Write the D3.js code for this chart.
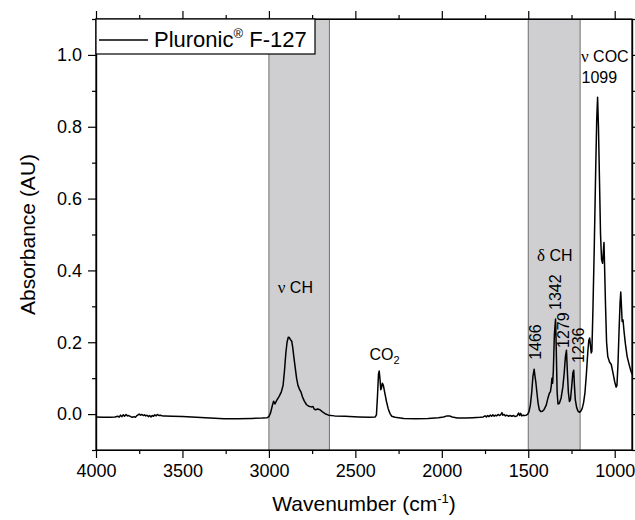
<!DOCTYPE html>
<html>
<head>
<meta charset="utf-8">
<script src="https://cdn.jsdelivr.net/npm/d3@7"></script>
<style>
  body { margin: 0; background: #fff; }
  text { font-family: Arial, "Liberation Sans", sans-serif; fill: #000; }
  .greek { font-family: "Liberation Serif", "DejaVu Serif", serif; }
</style>
</head>
<body>
<svg id="chart" width="635" height="520"></svg>
<script>
// FTIR spectrum of Pluronic F-127
var wavenumber = [
  4000, 3960, 3920, 3890, 3875, 3865, 3858, 3850, 3842, 3835, 3826, 3818, 3810, 3800, 3790, 3780,
  3772, 3765, 3757, 3750, 3742, 3735, 3727, 3720, 3712, 3705, 3697, 3690, 3682, 3675, 3667, 3660,
  3652, 3645, 3637, 3628, 3615, 3600, 3560, 3500, 3420, 3340, 3260, 3180, 3100, 3040, 3010, 3000,
  2990, 2980, 2973, 2965, 2955, 2940, 2928, 2918, 2910, 2902, 2895, 2888, 2882, 2875, 2868, 2862,
  2856, 2848, 2840, 2832, 2822, 2815, 2806, 2795, 2782, 2770, 2755, 2745, 2738, 2730, 2718, 2705,
  2690, 2675, 2655, 2620, 2560, 2480, 2420, 2385, 2378, 2372, 2366, 2362, 2357, 2353, 2349, 2344,
  2338, 2330, 2320, 2310, 2300, 2290, 2270, 2220, 2150, 2080, 2020, 1990, 1970, 1955, 1940, 1910,
  1860, 1820, 1780, 1760, 1750, 1742, 1735, 1727, 1720, 1712, 1705, 1697, 1690, 1682, 1675, 1667,
  1660, 1652, 1647, 1640, 1632, 1625, 1615, 1605, 1595, 1585, 1575, 1565, 1556, 1550, 1544, 1538,
  1530, 1522, 1512, 1504, 1496, 1488, 1480, 1473, 1466, 1461, 1456, 1450, 1443, 1436, 1428, 1418,
  1408, 1396, 1386, 1378, 1372, 1367, 1363, 1359, 1355, 1349, 1342, 1338, 1333, 1328, 1320, 1310,
  1300, 1292, 1285, 1279, 1274, 1268, 1262, 1256, 1249, 1242, 1237, 1233, 1228, 1220, 1212, 1204,
  1196, 1188, 1180, 1172, 1164, 1156, 1150, 1145, 1140, 1136, 1132, 1126, 1118, 1110, 1104, 1099,
  1094, 1088, 1082, 1076, 1070, 1066, 1062, 1058, 1053, 1047, 1040, 1030, 1020, 1010, 1000, 992,
  987, 981, 975, 969, 965, 961, 957, 952, 946, 938, 928, 915, 905, 898
];
var absorbance = [
  -0.008, -0.009, -0.009, -0.008, -0.006, -0.008, -0.003, -0.007, -0.002, -0.006, -0.001, -0.005, -0.004, -0.007, -0.009, -0.007,
  -0.009, -0.005, -0.002, 0.000, -0.003, -0.001, -0.004, -0.002, -0.005, -0.003, -0.007, -0.004, -0.008, -0.004, -0.006, -0.002,
  -0.005, -0.001, -0.004, -0.003, -0.005, -0.005, -0.006, -0.007, -0.009, -0.011, -0.013, -0.013, -0.012, -0.011, -0.010, -0.007,
  0.004, 0.024, 0.036, 0.028, 0.038, 0.050, 0.062, 0.080, 0.120, 0.170, 0.200, 0.214, 0.213, 0.207, 0.203, 0.185,
  0.160, 0.130, 0.100, 0.080, 0.068, 0.062, 0.048, 0.036, 0.026, 0.022, 0.020, 0.021, 0.014, 0.012, 0.014, 0.012,
  0.006, 0.001, -0.003, -0.005, -0.006, -0.008, -0.009, -0.008, -0.002, 0.050, 0.112, 0.120, 0.095, 0.068, 0.072, 0.086,
  0.080, 0.060, 0.035, 0.015, 0.002, -0.006, -0.009, -0.012, -0.013, -0.012, -0.010, -0.008, -0.005, -0.005, -0.008, -0.011,
  -0.011, -0.010, -0.009, -0.008, -0.005, -0.008, -0.004, -0.007, -0.003, -0.006, -0.002, -0.006, -0.003, -0.005, -0.001, -0.004,
  -0.002, 0.004, -0.003, -0.001, -0.005, -0.003, -0.006, -0.004, -0.006, -0.004, -0.007, -0.005, 0.003, -0.004, 0.002, -0.005,
  -0.003, -0.004, -0.003, -0.001, 0.006, 0.025, 0.060, 0.105, 0.125, 0.105, 0.088, 0.060, 0.030, 0.012, 0.007, 0.008,
  0.013, 0.025, 0.045, 0.058, 0.062, 0.078, 0.100, 0.086, 0.120, 0.220, 0.265, 0.180, 0.060, 0.028, 0.030, 0.045,
  0.075, 0.115, 0.160, 0.178, 0.120, 0.060, 0.035, 0.040, 0.075, 0.115, 0.122, 0.080, 0.040, 0.018, 0.008, 0.005,
  0.008, 0.016, 0.032, 0.060, 0.110, 0.170, 0.205, 0.212, 0.190, 0.170, 0.175, 0.290, 0.470, 0.680, 0.820, 0.882,
  0.800, 0.650, 0.500, 0.430, 0.420, 0.450, 0.478, 0.400, 0.300, 0.200, 0.160, 0.145, 0.138, 0.115, 0.090, 0.075,
  0.080, 0.140, 0.230, 0.310, 0.340, 0.300, 0.258, 0.262, 0.230, 0.195, 0.160, 0.135, 0.118, 0.110
];

var xTicks = [4000, 3500, 3000, 2500, 2000, 1500, 1000];
var xMinor = [3750, 3250, 2750, 2250, 1750, 1250];
var yTicks = [0.0, 0.2, 0.4, 0.6, 0.8, 1.0];
var yMinor = [-0.1, 0.1, 0.3, 0.5, 0.7, 0.9, 1.1];

// shaded regions [from, to] in cm-1
var bandStart = [3000, 1500];
var bandEnd = [2650, 1200];

// horizontal labels: greek prefix, text, wavenumber, absorbance
var labelGreek = ["\u03bd", "\u03b4", "\u03bd", ""];
var labelText = [" CH", " CH", " COC", "1099"];
var labelWn = [2847, 1346, 1195, 1192];
var labelAbs = [0.3375, 0.427, 0.979, 0.923];
var labelAnchor = ["middle", "middle", "start", "start"];

// rotated peak labels
var peakText = ["1466", "1342", "1279", "1236"];
var peakWn = [1425, 1308, 1262, 1178];
var peakAbs = [0.151, 0.290, 0.184, 0.142];

var margin = {top: 19, right: 3, bottom: 70, left: 96};
var width = 635 - margin.left - margin.right;
var height = 520 - margin.top - margin.bottom;

var svg = d3.select("#chart");
var g = svg.append("g").attr("transform", "translate(" + margin.left + "," + margin.top + ")");

var x = d3.scaleLinear().domain([4000, 900]).range([0, width]);
var y = d3.scaleLinear().domain([-0.1, 1.1]).range([height, 0]);

g.append("clipPath").attr("id", "clip")
  .append("rect").attr("width", width).attr("height", height);

// gray bands
var bands = bandStart.map(function(d, i) { return [d, bandEnd[i]]; });
g.selectAll("rect.band")
  .data(bands)
  .enter()
  .append("rect")
  .attr("class", "band")
  .attr("x", function(d) { return x(d[0]); })
  .attr("y", 0)
  .attr("width", function(d) { return x(d[1]) - x(d[0]); })
  .attr("height", height)
  .attr("fill", "#cfcfd1");
bands.forEach(function(d) {
  d.forEach(function(v) {
    g.append("line")
      .attr("x1", x(v)).attr("x2", x(v))
      .attr("y1", 0).attr("y2", height)
      .attr("stroke", "#6e6e6e").attr("stroke-width", 1);
  });
});

// spectrum
var pts = wavenumber.map(function(d, i) { return [d, absorbance[i]]; });
var line = d3.line()
  .x(function(d) { return x(d[0]); })
  .y(function(d) { return y(d[1]); });
g.append("path")
  .datum(pts)
  .attr("clip-path", "url(#clip)")
  .attr("fill", "none")
  .attr("stroke", "#000")
  .attr("stroke-width", 1.5)
  .attr("stroke-linejoin", "round")
  .attr("d", line);

// axes, ticks pointing out on all four sides
function styleAxis(sel) {
  sel.selectAll("path").attr("stroke", "#000").attr("stroke-width", 1.2);
  sel.selectAll("line").attr("stroke", "#000").attr("stroke-width", 1.2);
  sel.selectAll("text").style("font-size", "18px").attr("fill", "#000");
}

g.append("g").attr("transform", "translate(0," + height + ")")
  .call(d3.axisBottom(x).tickValues(xTicks).tickSize(8).tickSizeOuter(0).tickPadding(6).tickFormat(d3.format("d")))
  .call(styleAxis);
g.append("g").attr("transform", "translate(0," + height + ")")
  .call(d3.axisBottom(x).tickValues(xMinor).tickSize(4).tickSizeOuter(0).tickFormat(""))
  .call(styleAxis);
g.append("g")
  .call(d3.axisTop(x).tickValues(xTicks).tickSize(8).tickSizeOuter(0).tickFormat(""))
  .call(styleAxis);
g.append("g")
  .call(d3.axisTop(x).tickValues(xMinor).tickSize(4).tickSizeOuter(0).tickFormat(""))
  .call(styleAxis);

g.append("g")
  .call(d3.axisLeft(y).tickValues(yTicks).tickSize(8).tickSizeOuter(0).tickPadding(6).tickFormat(d3.format(".1f")))
  .call(styleAxis);
g.append("g")
  .call(d3.axisLeft(y).tickValues(yMinor).tickSize(4).tickSizeOuter(0).tickFormat(""))
  .call(styleAxis);
g.append("g").attr("transform", "translate(" + width + ",0)")
  .call(d3.axisRight(y).tickValues(yTicks).tickSize(8).tickSizeOuter(0).tickFormat(""))
  .call(styleAxis);
g.append("g").attr("transform", "translate(" + width + ",0)")
  .call(d3.axisRight(y).tickValues(yMinor).tickSize(4).tickSizeOuter(0).tickFormat(""))
  .call(styleAxis);

// frame
g.append("rect")
  .attr("width", width).attr("height", height)
  .attr("fill", "none").attr("stroke", "#000").attr("stroke-width", 1.2);

// axis titles
var xt = svg.append("text")
  .attr("x", margin.left + width / 2)
  .attr("y", 511)
  .attr("text-anchor", "middle")
  .style("font-size", "21px");
xt.append("tspan").text("Wavenumber (cm");
xt.append("tspan").attr("dy", -8).style("font-size", "13px").text("-1");
xt.append("tspan").attr("dy", 8).text(")");

svg.append("text")
  .attr("transform", "translate(35," + (margin.top + height / 2) + ") rotate(-90)")
  .attr("text-anchor", "middle")
  .style("font-size", "21px")
  .text("Absorbance (AU)");

// annotations
var labs = g.selectAll("text.lab")
  .data(labelText)
  .enter()
  .append("text")
  .attr("class", "lab")
  .attr("x", function(d, i) { return x(labelWn[i]); })
  .attr("y", function(d, i) { return y(labelAbs[i]); })
  .attr("text-anchor", function(d, i) { return labelAnchor[i]; })
  .style("font-size", "16px");
labs.append("tspan")
  .attr("class", "greek")
  .style("font-size", "17px")
  .text(function(d, i) { return labelGreek[i]; });
labs.append("tspan")
  .text(function(d) { return d; });

var co2 = g.append("text")
  .attr("x", x(2418))
  .attr("y", y(0.151))
  .style("font-size", "16px");
co2.append("tspan").text("CO");
co2.append("tspan").attr("dy", 4).style("font-size", "11px").text("2");

g.selectAll("text.peak")
  .data(peakText)
  .enter()
  .append("text")
  .attr("class", "peak")
  .attr("transform", function(d, i) {
    return "translate(" + x(peakWn[i]) + "," + y(peakAbs[i]) + ") rotate(-90)";
  })
  .style("font-size", "16px")
  .text(function(d) { return d; });

// legend
var legend = g.append("g");
legend.append("rect")
  .attr("x", 0).attr("y", 0)
  .attr("width", 219).attr("height", 35)
  .attr("fill", "#fff").attr("stroke", "#000").attr("stroke-width", 1.2);
legend.append("line")
  .attr("x1", 3).attr("x2", 52)
  .attr("y1", 21).attr("y2", 21)
  .attr("stroke", "#000").attr("stroke-width", 1.5);
var lt = legend.append("text")
  .attr("x", 58).attr("y", 27.5)
  .style("font-size", "22px");
lt.append("tspan").text("Pluronic");
lt.append("tspan").attr("dy", -9).style("font-size", "13px").text("\u00ae");
lt.append("tspan").attr("dy", 9).text(" F-127");
</script>
</body>
</html>
